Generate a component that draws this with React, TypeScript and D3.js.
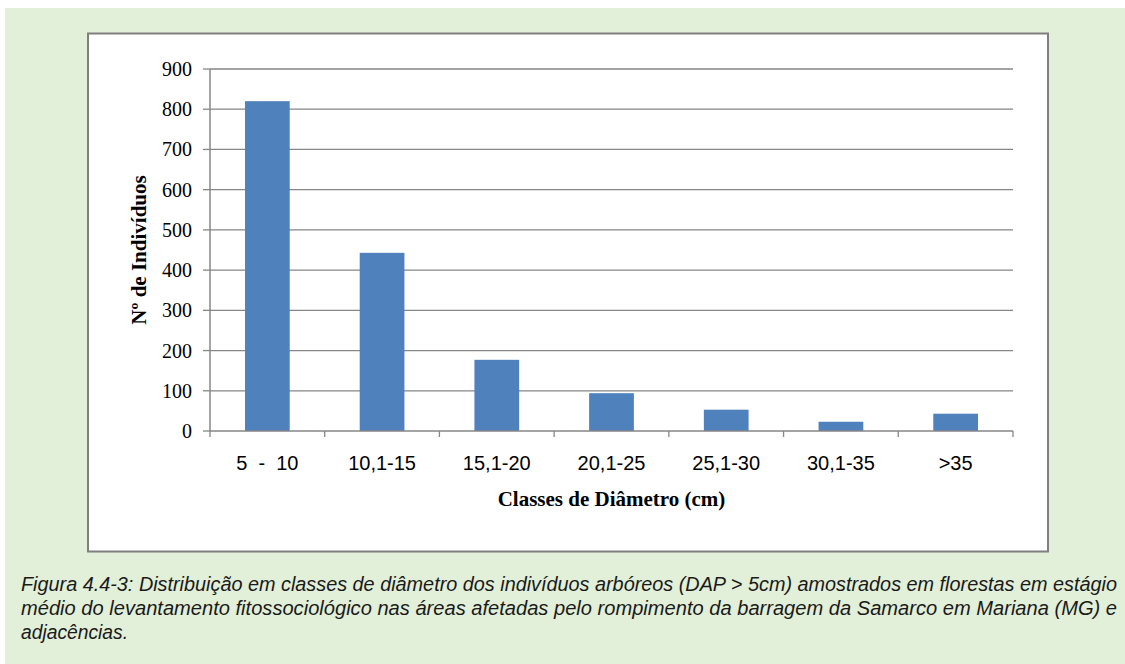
import React from "react";
import * as d3 from "d3";

const categories = ["5  -  10", "10,1-15", "15,1-20", "20,1-25", "25,1-30", "30,1-35", ">35"];
const values = [820, 443, 177, 94, 53, 23, 43];
const yTicks = [0, 100, 200, 300, 400, 500, 600, 700, 800, 900];
const captionLines = [
  "Figura 4.4-3: Distribuição em classes de diâmetro dos indivíduos arbóreos (DAP > 5cm) amostrados em florestas em estágio",
  "médio do levantamento fitossociológico nas áreas afetadas pelo rompimento da barragem da Samarco em Mariana (MG) e",
  "adjacências.",
];
const captionWidths = [1096, 1096, 107];

export default function App() {
  const W = 1125, H = 664;
  const left = 210, right = 1013, top = 69, bottom = 431;
  const x = d3.scaleBand<string>().domain(categories).range([left, right]).paddingInner(0.61).paddingOuter(0.305);
  const xb = d3.scaleBand<string>().domain(categories).range([left, right]);
  const y = d3.scaleLinear().domain([0, 900]).range([bottom, top]);
  const grid = "#868686";
  const serif = "'Liberation Serif', 'Times New Roman', serif";
  const sans = "'Liberation Sans', Arial, sans-serif";
  return (
    <svg width={W} height={H} style={{ position: "absolute", left: 0, top: 0 }}>
      <rect x={0} y={0} width={W} height={H} fill="#ffffff" />
      <rect x={5} y={8} width={W - 5} height={H - 8} fill="#e2efd9" />
      <rect x={88} y={33.5} width={960} height={518} fill="#ffffff" stroke="#7f7f7f" strokeWidth={2} />
      {yTicks.map((t) => (
        <g key={t}>
          {t > 0 && <line x1={left} x2={right} y1={y(t)} y2={y(t)} stroke={grid} strokeWidth={1.3} />}
          <line x1={left - 7} x2={left} y1={y(t)} y2={y(t)} stroke={grid} strokeWidth={1.3} />
          <text x={left - 18} y={y(t) + 7} textAnchor="end" fontFamily={serif} fontSize={20} fill="#000">{t}</text>
        </g>
      ))}
      {categories.map((c, i) => (
        <rect key={c} x={x(c)} y={y(values[i])} width={x.bandwidth()} height={bottom - y(values[i])} fill="#4f81bd" />
      ))}
      <line x1={left} x2={left} y1={top} y2={bottom} stroke={grid} strokeWidth={1.5} />
      <line x1={left} x2={right} y1={bottom} y2={bottom} stroke={grid} strokeWidth={1.5} />
      {[...categories.map((c) => xb(c) as number), right].map((v, i) => (
        <line key={i} x1={v} x2={v} y1={bottom} y2={bottom + 6} stroke={grid} strokeWidth={1.3} />
      ))}
      {categories.map((c) => (
        <text key={c} x={(xb(c) as number) + xb.bandwidth() / 2} y={470} textAnchor="middle" fontFamily={sans} fontSize={20} fill="#000" style={{ whiteSpace: "pre" }}>{c}</text>
      ))}
      <text x={(left + right) / 2} y={506} textAnchor="middle" fontFamily={serif} fontWeight="bold" fontSize={21} fill="#000">Classes de Diâmetro (cm)</text>
      <text transform={`translate(146,250) rotate(-90)`} textAnchor="middle" fontFamily={serif} fontWeight="bold" fontSize={21} fill="#000">Nº de Indivíduos</text>
      {captionLines.map((l, i) => (
        <text key={i} x={21} y={591 + i * 24} fontFamily={sans} fontStyle="italic" fontSize={19.5} fill="#1a1a1a"
          textLength={captionWidths[i]} lengthAdjust="spacingAndGlyphs">{l}</text>
      ))}
    </svg>
  );
}
